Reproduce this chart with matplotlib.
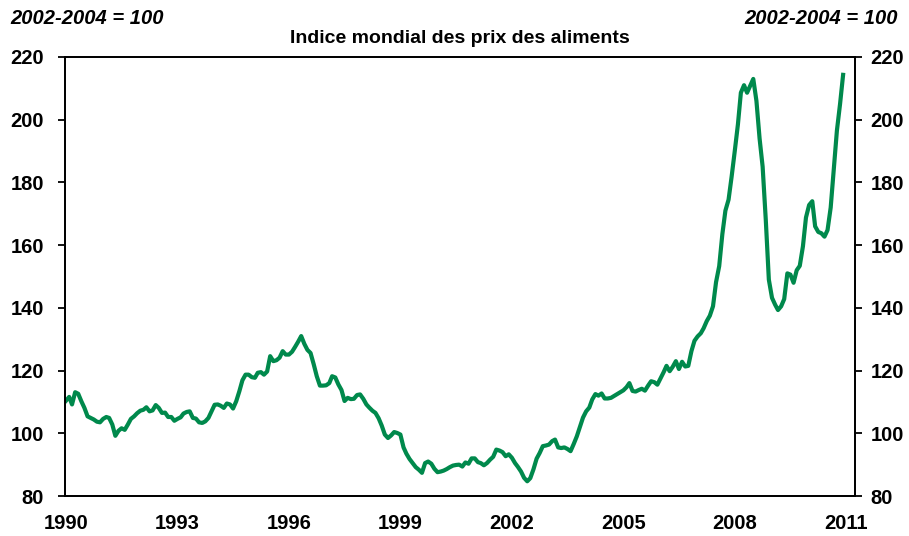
import matplotlib
matplotlib.use("Agg")
import matplotlib.pyplot as plt
import matplotlib.dates as mdates
import numpy as np
import pandas as pd

# FAO food price index, monthly, Jan 1990 - Dec 2010 (2002-2004 = 100)
v1990 = [110.4, 111.6, 109.2, 113.1, 112.6, 110.2, 108.1, 105.4, 104.9, 104.4, 103.7, 103.5]
v1991 = [104.6, 105.2, 104.9, 102.8, 99.2, 100.8, 101.6, 101.1, 102.8, 104.6, 105.4, 106.4]
v1992 = [107.2, 107.5, 108.3, 107.0, 107.3, 109.0, 108.1, 106.5, 106.6, 105.2, 105.2, 104.0]
v1993 = [104.6, 105.1, 106.3, 106.8, 107.0, 104.9, 104.7, 103.5, 103.3, 103.8, 104.9, 107.0]
v1994 = [109.1, 109.2, 108.8, 108.1, 109.5, 109.2, 107.9, 110.2, 113.4, 116.9, 118.7, 118.7]
v1995 = [117.9, 117.7, 119.3, 119.5, 118.7, 119.7, 124.6, 123.0, 123.3, 124.1, 126.2, 125.1]
v1996 = [125.1, 126.0, 127.5, 129.2, 131.0, 128.5, 126.6, 125.6, 122.0, 118.2, 115.2, 115.2]
v1997 = [115.3, 116.0, 118.2, 117.8, 115.6, 113.8, 110.3, 111.3, 110.9, 111.0, 112.2, 112.4]
v1998 = [111.0, 109.2, 108.2, 107.2, 106.5, 104.8, 102.5, 99.6, 98.5, 99.3, 100.4, 100.1]
v1999 = [99.6, 95.5, 93.5, 91.8, 90.5, 89.2, 88.4, 87.4, 90.5, 91.0, 90.3, 88.7]
v2000 = [87.6, 87.8, 88.1, 88.6, 89.2, 89.7, 89.9, 90.0, 89.4, 90.7, 90.3, 92.0]
v2001 = [92.0, 90.8, 90.5, 89.8, 90.5, 91.6, 92.5, 94.8, 94.5, 94.0, 92.7, 93.3]
v2002 = [92.2, 90.5, 89.3, 87.8, 85.8, 84.7, 85.7, 88.5, 91.9, 93.7, 95.9, 96.1]
v2003 = [96.4, 97.5, 98.0, 95.5, 95.3, 95.5, 95.0, 94.3, 96.6, 99.0, 102.0, 105.0]
v2004 = [107.0, 108.2, 110.8, 112.5, 112.0, 112.7, 111.1, 111.1, 111.3, 111.9, 112.5, 113.1]
v2005 = [113.7, 114.7, 116.0, 113.5, 113.3, 113.8, 114.2, 113.6, 115.2, 116.6, 116.3, 115.5]
v2006 = [117.5, 119.5, 121.5, 119.8, 121.2, 123.0, 120.5, 122.8, 121.3, 121.5, 126.2, 129.5]
v2007 = [130.9, 131.9, 133.5, 135.8, 137.5, 140.5, 148.2, 153.3, 163.5, 171.0, 174.5, 181.8]
v2008 = [190.0, 198.5, 208.6, 211.0, 208.6, 210.8, 213.0, 206.0, 194.0, 185.0, 168.0, 149.0]
v2009 = [143.2, 141.0, 139.3, 140.5, 142.8, 151.0, 150.6, 148.0, 152.0, 153.4, 159.6, 168.8]
v2010 = [172.8, 174.0, 166.0, 164.2, 163.8, 162.7, 164.8, 172.0, 184.5, 196.5, 205.0, 214.3]

values = (v1990 + v1991 + v1992 + v1993 + v1994 + v1995 + v1996 + v1997 + v1998 + v1999
          + v2000 + v2001 + v2002 + v2003 + v2004 + v2005 + v2006 + v2007 + v2008 + v2009 + v2010)
months = pd.date_range("1990-01-01", periods=len(values), freq="MS")

tick_years = [1990, 1993, 1996, 1999, 2002, 2005, 2008, 2011]
yticks = [80, 100, 120, 140, 160, 180, 200, 220]

title = "Indice mondial des prix des aliments"
base_label = "2002-2004 = 100"

plt.rcParams["font.family"] = ["Liberation Sans", "DejaVu Sans"]
plt.rcParams["font.weight"] = "bold"

fig = plt.figure(figsize=(9.09, 5.36), dpi=100)
ax = fig.add_axes([0.0715, 0.0746, 0.8691, 0.8191])

ax.plot(months, values, color="#00894c", lw=3.0, solid_joinstyle="round")

ax.set_xlim(pd.Timestamp("1989-12-22"), pd.Timestamp("2011-03-28"))
ax.set_ylim(80, 220)
ax.set_xticks([pd.Timestamp(f"{y}-01-01") for y in tick_years])
ax.xaxis.set_major_formatter(mdates.DateFormatter("%Y"))
ax.set_yticks(yticks)

for s in ax.spines.values():
    s.set_linewidth(1.3)
    s.set_color("black")

ax.tick_params(axis="x", length=0, pad=13, labelsize=14.5)
ax.tick_params(axis="y", direction="out", length=5, width=1.3, pad=10, labelsize=14.5)

ax2 = ax.twinx()
ax2.set_ylim(ax.get_ylim())
ax2.set_yticks(yticks)
ax2.tick_params(axis="y", direction="out", length=5, width=1.3, pad=6, labelsize=14.5)
for s in ax2.spines.values():
    s.set_linewidth(1.3)

for lab in ax.get_xticklabels() + ax.get_yticklabels() + ax2.get_yticklabels():
    lab.set_fontweight("bold")

fig.text(0.506, 0.929, title, ha="center", va="center", fontsize=14, fontweight="bold")
fig.text(0.011, 0.966, base_label, ha="left", va="center", fontsize=14.5, fontweight="bold", style="italic")
fig.text(0.988, 0.966, base_label, ha="right", va="center", fontsize=14.5, fontweight="bold", style="italic")

fig.savefig("out.png", dpi=100)
